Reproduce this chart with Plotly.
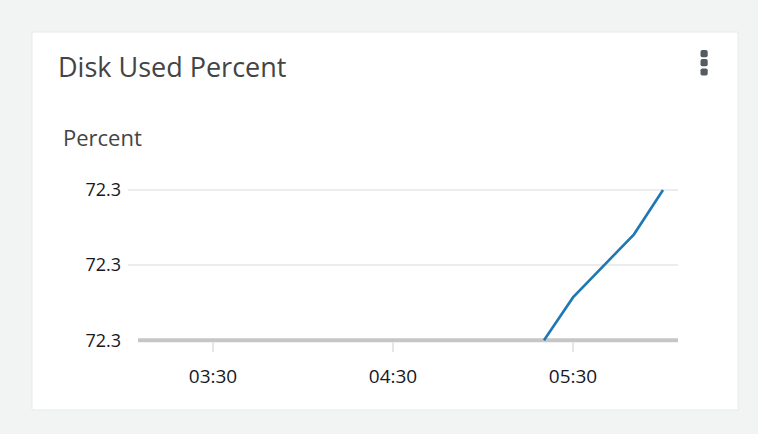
import plotly.graph_objects as go

# Data
times = ["2024-01-01 05:20:20", "2024-01-01 05:30:00", "2024-01-01 05:50:20", "2024-01-01 06:00:00"]
disk_used = [72.2990, 72.29957, 72.30041, 72.3010]

y_tickvals = [72.2990, 72.3000, 72.3010]
y_range = [72.29899, 72.3010533]
x_tickvals = ["2024-01-01 03:30:00", "2024-01-01 04:30:00", "2024-01-01 05:30:00"]
x_ticktext = ["03:30", "04:30", "05:30"]
x_range = ["2024-01-01 03:01:40", "2024-01-01 06:05:00"]

title_text = "Disk Used Percent"
y_label = "Percent"

FONT = "Open Sans"

# plot area: x 128..678, y 186..341 (px)
L, R, T, B = 128, 80, 186, 93
W, H = 758 - L - R, 434 - T - B


def px(xp):
    return (xp - L) / W


def py(yp):
    return (434 - B - yp) / H


def rounded_rect(x0, y0, x1, y1, r):
    pts = [
        f"M {px(x0 + r)},{py(y0)}",
        f"L {px(x1 - r)},{py(y0)}",
        f"Q {px(x1)},{py(y0)} {px(x1)},{py(y0 + r)}",
        f"L {px(x1)},{py(y1 - r)}",
        f"Q {px(x1)},{py(y1)} {px(x1 - r)},{py(y1)}",
        f"L {px(x0 + r)},{py(y1)}",
        f"Q {px(x0)},{py(y1)} {px(x0)},{py(y1 - r)}",
        f"L {px(x0)},{py(y0 + r)}",
        f"Q {px(x0)},{py(y0)} {px(x0 + r)},{py(y0)} Z",
    ]
    return " ".join(pts)


fig = go.Figure()
fig.add_trace(go.Scatter(
    x=times, y=disk_used, mode="lines",
    line=dict(color="#1f77b4", width=2.6),
    hoverinfo="skip", showlegend=False, cliponaxis=False,
))

dots = []
for cy in (53.7, 62.7, 72.0):
    dots.append(dict(type="path", xref="paper", yref="paper",
                     path=rounded_rect(700.5, cy - 3.6, 707.7, cy + 3.6, 1.8),
                     fillcolor="#545b64", line=dict(width=0)))

fig.update_layout(
    width=758, height=434,
    margin=dict(l=L, r=R, t=T, b=B),
    paper_bgcolor="#f2f3f3",
    plot_bgcolor="rgba(0,0,0,0)",
    font=dict(family=FONT, color="#16191f"),
    xaxis=dict(
        range=x_range, type="date",
        tickvals=x_tickvals, ticktext=x_ticktext,
        showgrid=False, zeroline=False, showline=False,
        ticks="outside", ticklen=10, tickwidth=2, tickcolor="#e6e6e6",
        ticklabelstandoff=8,
        tickfont=dict(size=19, color="#16191f", family=FONT),
    ),
    yaxis=dict(
        range=y_range,
        tickvals=y_tickvals, tickformat=".1f",
        showgrid=True, gridcolor="#eaeded", gridwidth=2,
        zeroline=False, showline=False, ticks="",
        ticklabelstandoff=6,
        tickfont=dict(size=18, color="#16191f", family=FONT),
    ),
    shapes=[
        dict(type="rect", xref="paper", yref="paper",
             x0=px(32), x1=px(738), y0=py(410), y1=py(32),
             fillcolor="#ffffff", line=dict(color="#e8e9e9", width=1), layer="below"),
        dict(type="line", xref="paper", yref="paper",
             x0=px(138), x1=1.0, y0=py(340.3), y1=py(340.3),
             line=dict(color="#c6c6c6", width=4), layer="between"),
    ] + dots,
    annotations=[
        dict(text=title_text, xref="paper", yref="paper",
             x=px(56), y=py(66), xanchor="left", yanchor="middle",
             showarrow=False, font=dict(size=27, color="#444444", family=FONT)),
        dict(text=y_label, xref="paper", yref="paper",
             x=px(61), y=py(137), xanchor="left", yanchor="middle",
             showarrow=False, font=dict(size=22, color="#444444", family=FONT)),
    ],
)

fig.write_html("out.html", config={"displayModeBar": False},
               post_script="document.body.style.margin='0';document.body.style.background='#f2f3f3';")
